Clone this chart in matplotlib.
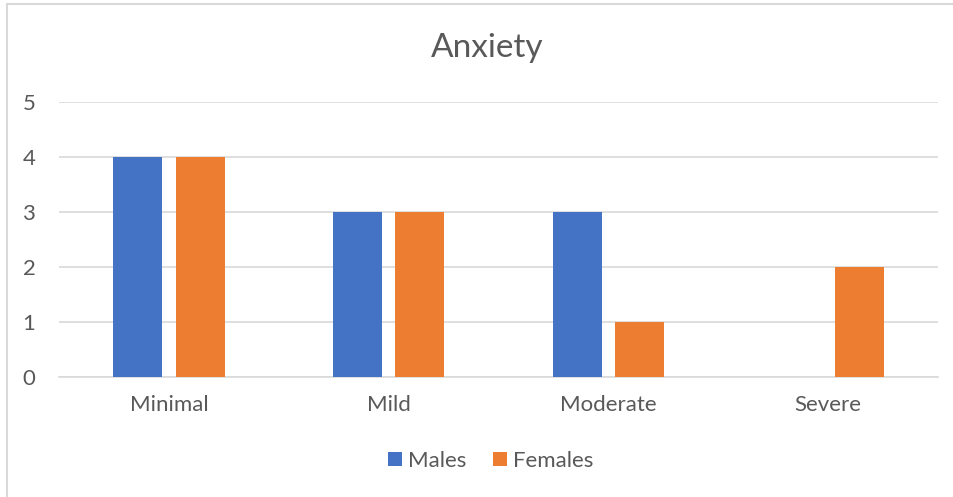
import numpy as np
import matplotlib.pyplot as plt
from matplotlib.lines import Line2D

categories = ['Minimal', 'Mild', 'Moderate', 'Severe']
males = [4, 3, 3, 0]
females = [4, 3, 1, 2]
yticks = [0, 1, 2, 3, 4, 5]

blue = '#4472c4'
orange = '#ed7d31'
grid = '#d9d9d9'
txt = '#595959'

plt.rcParams['font.family'] = ['Lato', 'DejaVu Sans']

fig = plt.figure(figsize=(9.54, 4.97), dpi=100)
ax = fig.add_axes([59/954, 1-377/497, (938-59)/954, (377-102)/497])

x = np.arange(len(categories))
w = 0.223
ax.bar(x - 0.142, males, w, color=blue, label='Males', zorder=3)
ax.bar(x + 0.142, females, w, color=orange, label='Females', zorder=3)

ax.set_xlim(-0.5, len(categories) - 0.5)
ax.set_ylim(0, 5)
ax.set_yticks(yticks)
ax.set_xticks(x)
ax.set_xticklabels(categories)
ax.yaxis.grid(True, color=grid, linewidth=1.2, zorder=0)
for s in ['top', 'right', 'left']:
    ax.spines[s].set_visible(False)
ax.spines['bottom'].set_color(grid)
ax.spines['bottom'].set_linewidth(1.2)
ax.tick_params(axis='both', length=0, labelsize=16, labelcolor=txt)
ax.tick_params(axis='x', pad=13)
ax.tick_params(axis='y', pad=17)

fig.text(487/954, 1-57/497, 'Anxiety', ha='center', va='baseline', fontsize=24, color=txt)

fig.legend(loc='center', bbox_to_anchor=(491/954, 1-461/497), ncol=2, frameon=False,
           fontsize=16, labelcolor=txt, handlelength=0.6, handleheight=0.6,
           handletextpad=0.3, columnspacing=1.2)

# chart border (top and left edges visible)
fig.add_artist(Line2D([7/954, 1], [1-4/497, 1-4/497], color=grid, linewidth=1.5))
fig.add_artist(Line2D([7/954, 7/954], [0, 1-4/497], color=grid, linewidth=1.5))

fig.savefig('out.png', dpi=100)
